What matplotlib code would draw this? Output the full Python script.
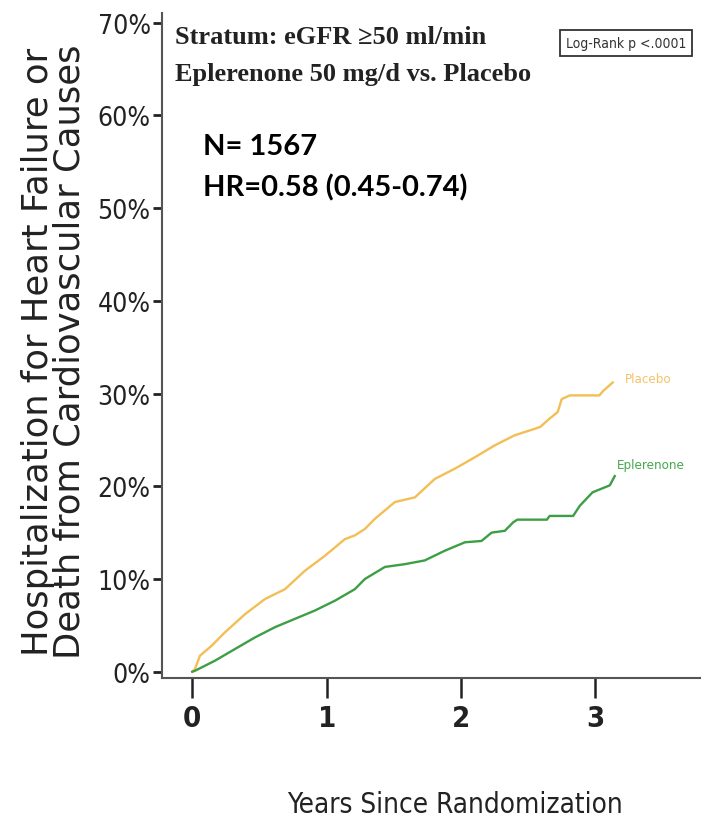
import numpy as np
import matplotlib
matplotlib.use('Agg')
import matplotlib.pyplot as plt

# readings (years, cumulative %)
placebo_t = [0, 0.02, 0.057, 0.144, 0.243, 0.392, 0.541, 0.69, 0.839, 0.987, 1.136, 1.21, 1.285,
             1.36, 1.508, 1.657, 1.806, 1.955, 2.10, 2.25, 2.40, 2.55, 2.59, 2.66, 2.72, 2.75,
             2.81, 3.03, 3.06, 3.13]
placebo_y = [0, 0.3, 1.73, 2.8, 4.25, 6.2, 7.84, 8.9, 10.9, 12.5, 14.3, 14.7, 15.4,
             16.5, 18.3, 18.8, 20.8, 21.9, 23.1, 24.4, 25.5, 26.2, 26.4, 27.3, 28.0, 29.4,
             29.8, 29.8, 30.3, 31.2]

eplerenone_t = [0, 0.02, 0.169, 0.318, 0.467, 0.615, 0.764, 0.913, 1.062, 1.21, 1.285, 1.434,
                1.583, 1.73, 1.88, 2.03, 2.153, 2.228, 2.327, 2.388, 2.42, 2.64, 2.66, 2.835,
                2.885, 2.98, 3.108, 3.145]
eplerenone_y = [0, 0.1, 1.19, 2.45, 3.7, 4.8, 5.7, 6.6, 7.66, 8.9, 10.0, 11.3,
                11.6, 12.0, 13.05, 13.96, 14.1, 15.0, 15.2, 16.1, 16.4, 16.4, 16.8, 16.8,
                17.9, 19.35, 20.1, 21.1]

x_ticks = [0, 1, 2, 3]
y_ticks = [0, 10, 20, 30, 40, 50, 60, 70]
y_ticklabels = ['{}%'.format(v) for v in y_ticks]

cond = dict(family='DejaVu Sans', fontstretch='condensed')
col_plac = '#F3BE55'
col_epl = '#3C9F45'

fig = plt.figure(figsize=(7.09, 8.29), dpi=100)
ax = fig.add_axes([0.229, 0.1806, 0.758, 0.802])

ax.plot(placebo_t, placebo_y, color=col_plac, linewidth=1.7)
ax.plot(eplerenone_t, eplerenone_y, color=col_epl, linewidth=1.7)

ax.text(3.22, 31.6, 'Placebo', color='#F2C46A', fontsize=9.5, va='center', ha='left', **cond)
ax.text(3.16, 22.4, 'Eplerenone', color='#45A84E', fontsize=9.5, va='center', ha='left', **cond)

ax.set_xlim(-0.223, 3.778)
ax.set_ylim(-0.71, 71.0)

for s in ['top', 'right']:
    ax.spines[s].set_visible(False)
for s in ['left', 'bottom']:
    ax.spines[s].set_color('#555555')
    ax.spines[s].set_linewidth(1.5)

ax.set_xticks(x_ticks)
ax.set_xticklabels([str(v) for v in x_ticks], fontsize=21, fontweight='bold', **cond)
ax.set_yticks(y_ticks)
ax.set_yticklabels(y_ticklabels, fontsize=19, **cond)
ax.tick_params(axis='x', length=14.5, width=1.8, pad=4, colors='#222222')
ax.tick_params(axis='y', length=6.5, width=2.0, pad=2, colors='#222222')

# header texts
serif = ['Liberation Serif', 'DejaVu Serif']
fig.text(175 / 709, 1 - 38 / 829, 'Stratum: eGFR \u226550 ml/min', family=serif, fontweight='bold',
         fontsize=19, color='#222222', va='center', ha='left')
fig.text(175 / 709, 1 - 75 / 829, 'Eplerenone 50 mg/d vs. Placebo', family=serif, fontweight='bold',
         fontsize=19, color='#222222', va='center', ha='left')

fig.text(203 / 709, 1 - 147 / 829, 'N= 1567', family=['Lato', 'DejaVu Sans'], fontweight='bold',
         fontsize=21, color='black', va='center', ha='left')
fig.text(203 / 709, 1 - 188 / 829, 'HR=0.58 (0.45-0.74)', family=['Lato', 'DejaVu Sans'], fontweight='bold',
         fontsize=21, color='black', va='center', ha='left')

fig.text(626 / 709, 1 - 44 / 829, 'Log-Rank p <.0001', fontsize=10, color='#333333',
         va='center', ha='center',
         bbox=dict(boxstyle='square,pad=0.4', facecolor='white', edgecolor='#333333', linewidth=1.3),
         **cond)

fig.text(455 / 709, 1 - 805 / 829, 'Years Since Randomization', fontsize=20,
         color='#222222', va='center', ha='center', **cond)

fig.text(54 / 709, 1 - 352 / 829, 'Hospitalization for Heart Failure or\nDeath from Cardiovascular Causes',
         family='DejaVu Sans', fontsize=25.5, color='#222222', rotation=90, va='center', ha='center',
         multialignment='center', linespacing=0.92)

plt.savefig('out.png', dpi=100)
